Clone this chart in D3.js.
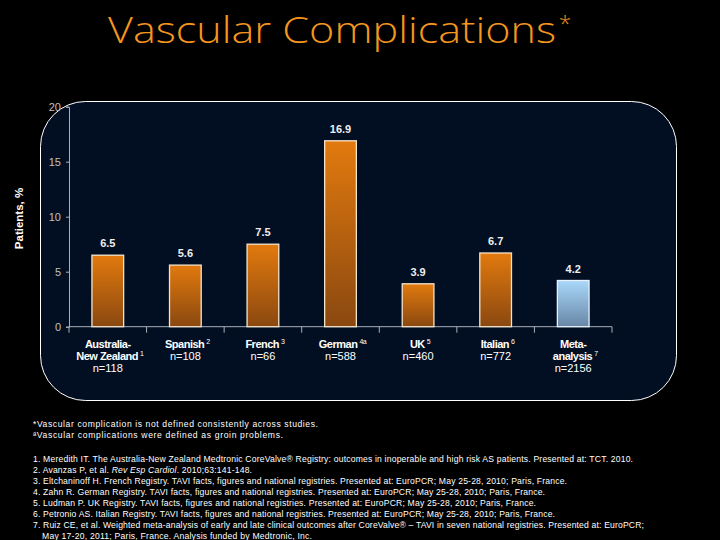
<!DOCTYPE html>
<html><head><meta charset="utf-8">
<script src="https://cdn.jsdelivr.net/npm/d3@7"></script>
<style>
html,body{margin:0;padding:0;background:#000;}
svg{display:block;}
</style></head>
<body>
<script>
// ---- data ----
const categories = ["Australia-New Zealand", "Spanish", "French", "German", "UK", "Italian", "Meta-analysis"];
const labelLine1 = ["Australia-", "Spanish", "French", "German", "UK", "Italian", "Meta-"];
const labelLine1Sup = ["", "2", "3", "4a", "5", "6", ""];
const labelLine2 = ["New Zealand", "n=108", "n=66", "n=588", "n=460", "n=772", "analysis"];
const labelLine2Sup = ["1", "", "", "", "", "", "7"];
const labelLine3 = ["n=118", "", "", "", "", "", "n=2156"];
const values = [6.5, 5.6, 7.5, 16.9, 3.9, 6.7, 4.2];
const isMeta = [false, false, false, false, false, false, true];
const yTicks = [0, 5, 10, 15, 20];
const titleText = "Vascular Complications";
const yLabel = "Patients, %";
const footnotes = [
  "*Vascular complication is not defined consistently across studies.",
  "\u00AAVascular complications were defined as groin problems."
];
const references = [
  "1. Meredith IT. The Australia-New Zealand Medtronic CoreValve\u00AE Registry: outcomes in inoperable and high risk AS patients. Presented at: TCT. 2010.",
  "2. Avanzas P, et al. |Rev Esp Cardiol|. 2010;63:141-148.",
  "3. Eltchaninoff H. French Registry. TAVI facts, figures and national registries. Presented at: EuroPCR; May 25-28, 2010; Paris, France.",
  "4. Zahn R. German Registry. TAVI facts, figures and national registries. Presented at: EuroPCR; May 25-28, 2010; Paris, France.",
  "5. Ludman P. UK Registry. TAVI facts, figures and national registries. Presented at: EuroPCR; May 25-28, 2010; Paris, France.",
  "6. Petronio AS. Italian Registry. TAVI facts, figures and national registries. Presented at: EuroPCR; May 25-28, 2010; Paris, France.",
  "7. Ruiz CE, et al. Weighted meta-analysis of early and late clinical outcomes after CoreValve\u00AE \u2013 TAVI in seven national registries. Presented at: EuroPCR;",
  "May 17-20, 2011; Paris, France. Analysis funded by Medtronic, Inc."
];

// ---- layout ----
const W = 720, H = 540;
const svg = d3.select("body").append("svg").attr("width", W).attr("height", H);
svg.append("rect").attr("width", W).attr("height", H).attr("fill", "#000");

const defs = svg.append("defs");
const gO = defs.append("linearGradient").attr("id", "gOrange").attr("x1", 0).attr("y1", 0).attr("x2", 0).attr("y2", 1);
gO.append("stop").attr("offset", "0%").attr("stop-color", "#e27a0e");
gO.append("stop").attr("offset", "100%").attr("stop-color", "#8a4810");
const gB = defs.append("linearGradient").attr("id", "gBlue").attr("x1", 0).attr("y1", 0).attr("x2", 0).attr("y2", 1);
gB.append("stop").attr("offset", "0%").attr("stop-color", "#aad8fa");
gB.append("stop").attr("offset", "100%").attr("stop-color", "#6786a6");

// title
const title = svg.append("text")
  .attr("x", 108).attr("y", 43)
  .attr("fill", "#f5961e")
  .style("font-family", "'Open Sans', Lato, sans-serif")
  .style("font-weight", 300)
  .style("font-size", "37px");
title.append("tspan").text(titleText).attr("textLength", 448).attr("lengthAdjust", "spacingAndGlyphs");
title.append("tspan").text("*").attr("dx", 3).attr("dy", -12).style("font-size", "22px");

// panel
svg.append("rect")
  .attr("x", 40.5).attr("y", 101.5).attr("width", 636).attr("height", 299)
  .attr("rx", 45).attr("ry", 45)
  .attr("fill", "#020f23").attr("stroke", "#ffffff").attr("stroke-width", 1);

// scales
const x = d3.scaleBand().domain(categories).range([69, 612]).paddingInner(0).paddingOuter(0);
const y = d3.scaleLinear().domain([0, 20]).range([326.7, 106.7]);
const barW = 31.7;

// y axis
const yAxis = d3.axisLeft(y).tickValues(yTicks).tickSize(3).tickPadding(5);
const gy = svg.append("g").attr("transform", "translate(69,0)").call(yAxis);
gy.select(".domain").attr("stroke", "#a8b0b8");
gy.selectAll(".tick line").attr("stroke", "#a8b0b8");
gy.selectAll(".tick text").attr("fill", "#c0c0c0")
  .style("font-family", "'Liberation Sans', Arial, sans-serif").style("font-size", "11px");

// x axis (ticks at category boundaries)
const boundaries = categories.map(c => x(c)).concat([x.range()[1]]);
const gx = svg.append("g").attr("transform", `translate(0,${y(0)})`);
gx.append("line").attr("x1", 69).attr("x2", 612).attr("y1", 0).attr("y2", 0).attr("stroke", "#a8b0b8");
gx.selectAll("line.tk").data(boundaries).enter().append("line").attr("class", "tk")
  .attr("x1", d => d).attr("x2", d => d).attr("y1", 0).attr("y2", 6).attr("stroke", "#a8b0b8");

// bars
svg.selectAll("rect.bar").data(values).enter().append("rect").attr("class", "bar")
  .attr("x", (d, i) => x(categories[i]) + x.bandwidth() / 2 - barW / 2)
  .attr("y", d => y(d))
  .attr("width", barW)
  .attr("height", d => y(0) - y(d))
  .attr("fill", (d, i) => isMeta[i] ? "url(#gBlue)" : "url(#gOrange)")
  .attr("stroke", (d, i) => isMeta[i] ? "#e8f2fa" : "#f4e4cc")
  .attr("stroke-width", 1.3);

// value labels
svg.selectAll("text.val").data(values).enter().append("text").attr("class", "val")
  .attr("x", (d, i) => x(categories[i]) + x.bandwidth() / 2)
  .attr("y", d => y(d) - 8)
  .attr("text-anchor", "middle")
  .attr("fill", "#eeeeee")
  .style("font-family", "'Liberation Sans', Arial, sans-serif")
  .style("font-weight", "bold").style("font-size", "11px")
  .text(d => d.toFixed(1));

// category labels
function addLine(i, txt, sup, yy, bold) {
  if (!txt) return;
  const t = svg.append("text")
    .attr("x", x(categories[i]) + x.bandwidth() / 2 + (sup ? 2 : 0))
    .attr("y", yy)
    .attr("text-anchor", "middle")
    .attr("fill", "#ffffff")
    .style("font-family", "'Liberation Sans', Arial, sans-serif")
    .style("font-weight", bold ? "bold" : "normal")
    .style("letter-spacing", bold ? "-0.5px" : "0px")
    .style("font-size", "11px");
  t.append("tspan").text(txt);
  if (sup) t.append("tspan").text(sup).attr("dx", 2).attr("dy", -4).style("font-size", "7px").style("font-weight", "normal");
}
categories.forEach((c, i) => {
  addLine(i, labelLine1[i], labelLine1Sup[i], 348, true);
  const l2bold = !labelLine2[i].startsWith("n=");
  addLine(i, labelLine2[i], labelLine2Sup[i], 360, l2bold);
  addLine(i, labelLine3[i], "", 372, false);
});

// y label
svg.append("text")
  .attr("transform", "translate(23,218.5) rotate(-90)")
  .attr("text-anchor", "middle")
  .attr("fill", "#ffffff")
  .style("font-family", "'Liberation Sans', Arial, sans-serif")
  .style("font-weight", "bold").style("font-size", "11.5px")
  .text(yLabel);

// footnotes
const fnFont = "'Liberation Sans', Arial, sans-serif";
const fnWidths = [285, 250];
footnotes.forEach((f, i) => {
  svg.append("text").attr("x", 33).attr("y", 427 + i * 11)
    .attr("fill", "#ffffff").style("font-family", fnFont).style("font-size", "8.6px")
    .attr("textLength", fnWidths[i]).attr("lengthAdjust", "spacing")
    .text(f);
});
const refWidths = [600, 219, 534, 512, 503, 522, 611, 270];
const refX = [33, 33, 33, 33, 33, 33, 33, 42];
references.forEach((r, i) => {
  const t = svg.append("text").attr("x", refX[i]).attr("y", 462 + i * 11)
    .attr("fill", "#ffffff").style("font-family", fnFont).style("font-size", "8.6px")
    .attr("textLength", refWidths[i]).attr("lengthAdjust", "spacing");
  r.split("|").forEach((part, k) => {
    const s = t.append("tspan").text(part);
    if (k % 2 === 1) s.style("font-style", "italic");
  });
});
</script>
</body></html>
